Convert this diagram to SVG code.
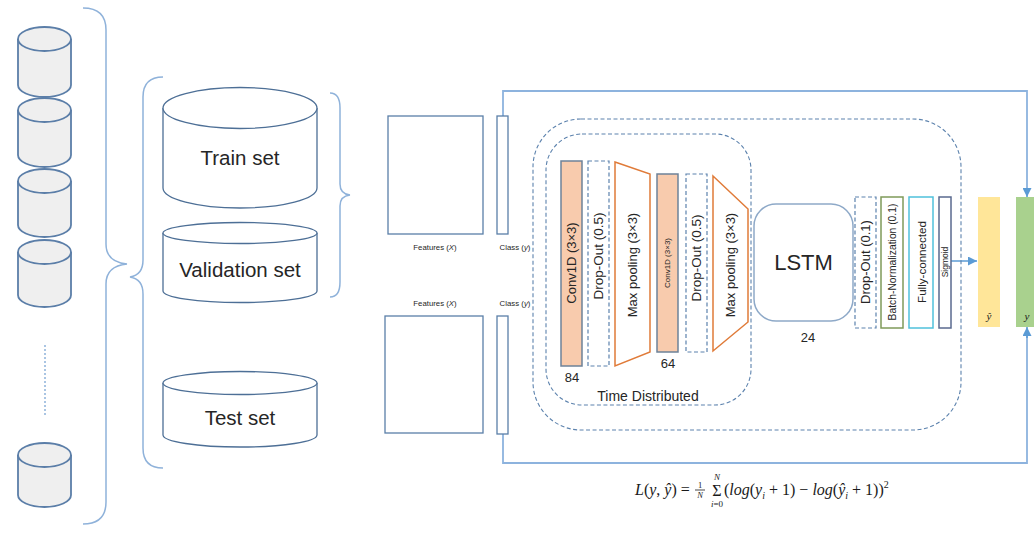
<svg xmlns="http://www.w3.org/2000/svg" width="1034" height="540" viewBox="0 0 1034 540">
  <style>
    .cyl { fill: #efefef; stroke: #5b7ea8; stroke-width: 1.8; }
    .set { fill: #ffffff; stroke: #4d6f96; stroke-width: 1.3; }
    .brace { fill: none; stroke: #8fb2da; stroke-width: 1.5; }
    .mat { fill: #ffffff; stroke: #5a7fa8; stroke-width: 1.3; }
    .dash { fill: none; stroke: #5c82ad; stroke-width: 1.1; stroke-dasharray: 4 2.5; }
    .dashbox { fill: #ffffff; stroke: #5c82ad; stroke-width: 1.2; stroke-dasharray: 4 2.5; }
    .conv { fill: #f8cbad; stroke: #6d8299; stroke-width: 1.5; }
    .pool { fill: #ffffff; stroke: #e07b39; stroke-width: 1.5; }
    .lbl { font-family: "Liberation Sans", Arial, sans-serif; fill: #262626; }
    .math { font-family: "Liberation Serif", "Times New Roman", serif; fill: #1a1a1a; }
    .link { fill: none; stroke: #8db3de; stroke-width: 1.8; }
    .arrow { fill: none; stroke: #5b9bd5; stroke-width: 1.5; }
  </style>
  <defs>
    <marker id="head" viewBox="0 0 10 10" refX="10" refY="5" markerWidth="9" markerHeight="9" markerUnits="userSpaceOnUse" orient="auto">
      <path d="M0,0 L10,5 L0,10 z" fill="#5b9bd5"/>
    </marker>
  </defs>
  <rect width="1034" height="540" fill="#ffffff"/>

  <!-- data folds -->
  <g id="folds">
    <g id="fold1">
      <path class="cyl" d="M18,39 V85 A26.5,12 0 0 0 71,85 V39"/>
      <ellipse class="cyl" cx="44.5" cy="39" rx="26.5" ry="12"/>
    </g>
    <g id="fold2">
      <path class="cyl" d="M18,110 V155 A26.5,12 0 0 0 71,155 V110"/>
      <ellipse class="cyl" cx="44.5" cy="110" rx="26.5" ry="12"/>
    </g>
    <g id="fold3">
      <path class="cyl" d="M18,181 V225 A26.5,12 0 0 0 71,225 V181"/>
      <ellipse class="cyl" cx="44.5" cy="181" rx="26.5" ry="12"/>
    </g>
    <g id="fold4">
      <path class="cyl" d="M18,252 V295 A26.5,12 0 0 0 71,295 V252"/>
      <ellipse class="cyl" cx="44.5" cy="252" rx="26.5" ry="12"/>
    </g>
    <line x1="45" y1="345" x2="45" y2="417" stroke="#8fb2da" stroke-width="1.5" stroke-dasharray="2 2"/>
    <g id="fold5">
      <path class="cyl" d="M18,455 V495 A26.5,12 0 0 0 71,495 V455"/>
      <ellipse class="cyl" cx="44.5" cy="455" rx="26.5" ry="12"/>
    </g>
  </g>

  <!-- braces -->
  <path class="brace" d="M83,8 Q106,8 106,30 V244 Q106,262 127,264 Q106,266 106,284 V502 Q106,524 83,524"/>
  <path class="brace" d="M163,77 Q143,77 143,97 V260 Q143,275 130,277 Q143,279 143,294 V448 Q143,468 163,468"/>
  <path class="brace" d="M330,93 Q340,93 340,108 V184 Q340,194 350,195 Q340,196 340,206 V282 Q340,297 330,297"/>

  <!-- data splits -->
  <g id="train-set">
    <path class="set" d="M163,108 V188 A77,20 0 0 0 317,188 V108"/>
    <ellipse class="set" cx="240" cy="108" rx="77" ry="20.5"/>
    <text class="lbl" x="240" y="165" font-size="20.5" text-anchor="middle">Train set</text>
  </g>
  <g id="validation-set">
    <path class="set" d="M163,233 V291 A77,11.5 0 0 0 317,291 V233"/>
    <ellipse class="set" cx="240" cy="233" rx="77" ry="10.5"/>
    <text class="lbl" x="240" y="277" font-size="20.5" text-anchor="middle">Validation set</text>
  </g>
  <g id="test-set">
    <path class="set" d="M163,383 V435 A77,12 0 0 0 317,435 V383"/>
    <ellipse class="set" cx="240" cy="383" rx="77" ry="11.5"/>
    <text class="lbl" x="240" y="425" font-size="20.5" text-anchor="middle">Test set</text>
  </g>

  <!-- connectors -->
  <g id="connectors">
    <path class="link" d="M503,116 V91 H1027 V190"/>
    <path class="arrow" d="M1027,188 V197" marker-end="url(#head)"/>
    <path class="link" d="M503,434 V463 H1027 V336"/>
    <path class="arrow" d="M1027,338 V327" marker-end="url(#head)"/>
    <path class="arrow" d="M951,261 H977" marker-end="url(#head)"/>
  </g>

  <!-- feature / class matrices -->
  <g id="train-data">
    <rect class="mat" x="388" y="116" width="95" height="118"/>
    <rect class="mat" x="497" y="116" width="11" height="118"/>
    <text class="lbl" x="435" y="250" font-size="7.8" text-anchor="middle">Features (<tspan font-style="italic">X</tspan>)</text>
    <text class="lbl" x="515" y="250" font-size="7.8" text-anchor="middle">Class (<tspan font-style="italic">y</tspan>)</text>
  </g>
  <g id="test-data">
    <text class="lbl" x="435" y="306" font-size="7.8" text-anchor="middle">Features (<tspan font-style="italic">X</tspan>)</text>
    <text class="lbl" x="515" y="306" font-size="7.8" text-anchor="middle">Class (<tspan font-style="italic">y</tspan>)</text>
    <rect class="mat" x="385" y="316" width="98" height="117"/>
    <rect class="mat" x="497" y="316" width="11" height="118"/>
  </g>

  <!-- model containers -->
  <g id="model">
    <rect class="dash" x="533" y="119" width="428" height="311" rx="48"/>
  </g>
  <g id="time-distributed">
    <rect class="dash" x="546" y="134" width="205" height="271" rx="36"/>
    <text class="lbl" x="648" y="401" font-size="14" text-anchor="middle">Time Distributed</text>
  </g>

  <!-- CNN block -->
  <g id="conv1">
    <rect class="conv" x="561" y="161" width="21" height="205"/>
    <text class="lbl" x="571.5" y="263" font-size="13" text-anchor="middle" dominant-baseline="central" transform="rotate(-90 571.5 263)">Conv1D  (3×3)</text>
    <text class="lbl" x="572" y="382" font-size="13" text-anchor="middle">84</text>
  </g>
  <g id="dropout1">
    <rect class="dashbox" x="588" y="161" width="21" height="205"/>
    <text class="lbl" x="598.5" y="256" font-size="13.5" text-anchor="middle" dominant-baseline="central" transform="rotate(-90 598.5 256)">Drop-Out (0.5)</text>
  </g>
  <g id="maxpool1">
    <path class="pool" d="M615,162 L650,174 L650,352 L615,366 Z"/>
    <text class="lbl" x="632" y="265" font-size="13" text-anchor="middle" dominant-baseline="central" transform="rotate(-90 632 265)">Max pooling (3×3)</text>
  </g>
  <g id="conv2">
    <rect class="conv" x="657" y="174" width="21" height="178"/>
    <text class="lbl" x="667.5" y="263" font-size="8" text-anchor="middle" dominant-baseline="central" transform="rotate(-90 667.5 263)">Conv1D (3×3)</text>
    <text class="lbl" x="668" y="368" font-size="13" text-anchor="middle">64</text>
  </g>
  <g id="dropout2">
    <rect class="dashbox" x="686" y="174" width="21" height="178"/>
    <text class="lbl" x="696.5" y="258" font-size="13.5" text-anchor="middle" dominant-baseline="central" transform="rotate(-90 696.5 258)">Drop-Out (0.5)</text>
  </g>
  <g id="maxpool2">
    <path class="pool" d="M713,176 L748,209 L748,322 L713,351 Z"/>
    <text class="lbl" x="730" y="265" font-size="13" text-anchor="middle" dominant-baseline="central" transform="rotate(-90 730 265)">Max pooling (3×3)</text>
  </g>

  <!-- recurrent and dense head -->
  <g id="lstm">
    <rect x="754" y="204" width="99" height="117" rx="22" fill="#ffffff" stroke="#8ea9c8" stroke-width="1.5"/>
    <text class="lbl" x="803.5" y="270" font-size="22" text-anchor="middle">LSTM</text>
    <text class="lbl" x="808" y="342" font-size="13" text-anchor="middle">24</text>
  </g>
  <g id="dropout3">
    <rect class="dashbox" x="855" y="197" width="21" height="131"/>
    <text class="lbl" x="865.5" y="262" font-size="13" text-anchor="middle" dominant-baseline="central" transform="rotate(-90 865.5 262)">Drop-Out (0.1)</text>
  </g>
  <g id="batchnorm">
    <rect x="881" y="197" width="22" height="131" fill="#ffffff" stroke="#7f9a5a" stroke-width="1.5"/>
    <text class="lbl" x="892" y="262" font-size="10.3" text-anchor="middle" dominant-baseline="central" transform="rotate(-90 892 262)">Batch-Normalization (0.1)</text>
  </g>
  <g id="dense">
    <rect x="909" y="197" width="24" height="131" fill="#ffffff" stroke="#4fc1db" stroke-width="1.5"/>
    <text class="lbl" x="921" y="262" font-size="11.6" text-anchor="middle" dominant-baseline="central" transform="rotate(-90 921 262)">Fully-connected</text>
  </g>
  <g id="sigmoid">
    <rect x="939" y="197" width="12" height="131" fill="#ffffff" stroke="#5a6a8f" stroke-width="1.5"/>
    <text class="lbl" x="945" y="262" font-size="8.5" text-anchor="middle" dominant-baseline="central" transform="rotate(-90 945 262)">Sigmoid</text>
  </g>

  <!-- outputs -->
  <g id="prediction">
    <rect x="978" y="197" width="22" height="130" fill="#ffe699"/>
    <text class="math" x="989" y="320" font-size="11" font-style="italic" text-anchor="middle">ŷ</text>
  </g>
  <g id="target">
    <rect x="1016" y="197" width="22" height="130" fill="#a9d18e"/>
    <text class="math" x="1027" y="320" font-size="11" font-style="italic" text-anchor="middle">y</text>
  </g>

  <!-- loss function -->
  <g id="loss" class="math">
    <text x="635" y="495" font-size="16"><tspan font-style="italic">L</tspan>(<tspan font-style="italic">y</tspan>, <tspan font-style="italic">ŷ</tspan>) =</text>
    <text x="700" y="488" font-size="8.5" text-anchor="middle">1</text>
    <line x1="695" y1="490" x2="705" y2="490" stroke="#1a1a1a" stroke-width="0.8"/>
    <text x="700" y="498" font-size="8.5" font-style="italic" text-anchor="middle">N</text>
    <text x="717" y="496" font-size="16" text-anchor="middle">Σ</text>
    <text x="717" y="480" font-size="9" font-style="italic" text-anchor="middle">N</text>
    <text x="717" y="507" font-size="9" text-anchor="middle"><tspan font-style="italic">i</tspan>=0</text>
    <text x="724" y="495" font-size="16">(<tspan font-style="italic">log</tspan>(<tspan font-style="italic">y</tspan><tspan font-size="10" font-style="italic" dy="4">i</tspan><tspan dy="-4"> + 1) − </tspan><tspan font-style="italic">log</tspan>(<tspan font-style="italic">ŷ</tspan><tspan font-size="10" font-style="italic" dy="4">i</tspan><tspan dy="-4"> + 1))</tspan><tspan font-size="10" dy="-7">2</tspan></text>
  </g>
</svg>
